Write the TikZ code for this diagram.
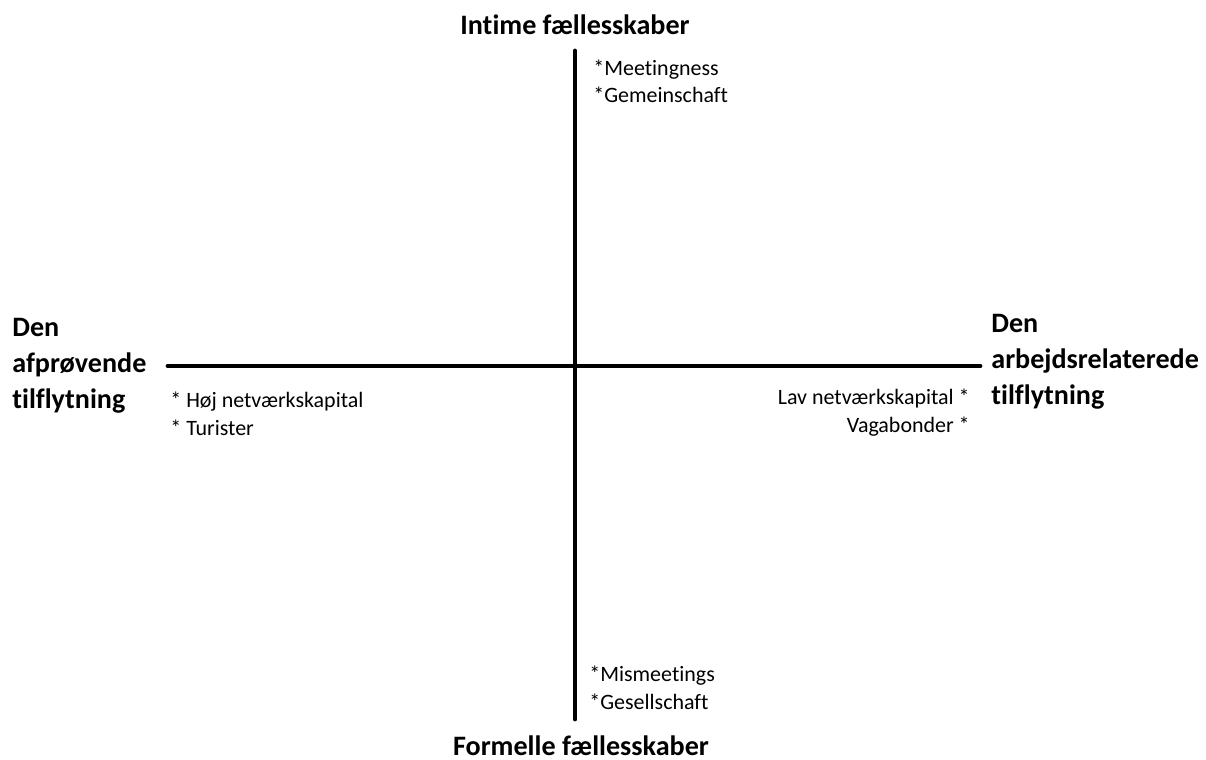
\documentclass[tikz,border=0pt]{standalone}
\usepackage{fontspec}
\setmainfont[Ligatures=NoCommon]{Carlito}
\usetikzlibrary{positioning}

\begin{document}
\begin{tikzpicture}[x=0.02cm, y=-0.02cm]
    % Styles
    \tikzset{
        axis/.style={line width=2.8pt, line cap=round},
        pole_text/.style={font=\bfseries\fontsize{16}{20.3}\selectfont, inner sep=0pt, align=left},
        note_text/.style={font=\fontsize{12.5}{15.4}\selectfont, inner sep=0pt}
    }
    \useasboundingbox (0,0) rectangle (1206,760);

    % --- Axes ---
    \coordinate (top) at (575,51);
    \coordinate (bottom) at (575,719);
    \coordinate (left) at (168,366);
    \coordinate (right) at (980,366);

    \draw[axis] (top) -- (bottom);
    \draw[axis] (left) -- (right);

    % --- Poles ---
    \node[pole_text, anchor=base] (intime) at (575,35) {Intime fællesskaber};
    \node[pole_text, anchor=base] (formelle) at (581,755) {Formelle fællesskaber};
    \node[pole_text, anchor=base west] (afproevende) at (12,408) {Den\\afprøvende\\tilflytning};
    \node[pole_text, anchor=base west] (arbejde) at (991,404) {Den\\arbejdsrelaterede\\tilflytning};

    % --- Notes in the quadrants ---
    \node[note_text, align=left, anchor=base west] (meeting) at (593,103) {*Meetingness\\*Gemeinschaft};
    \node[note_text, align=left, anchor=base west] (mismeeting) at (589,709) {*Mismeetings\\*Gesellschaft};
    \node[note_text, align=left, anchor=base west] (hoej) at (170,435) {* Høj netværkskapital\\* Turister};
    \node[note_text, align=right, anchor=base east] (lav) at (970,432) {Lav netværkskapital *\\Vagabonder *};

\end{tikzpicture}
\end{document}
